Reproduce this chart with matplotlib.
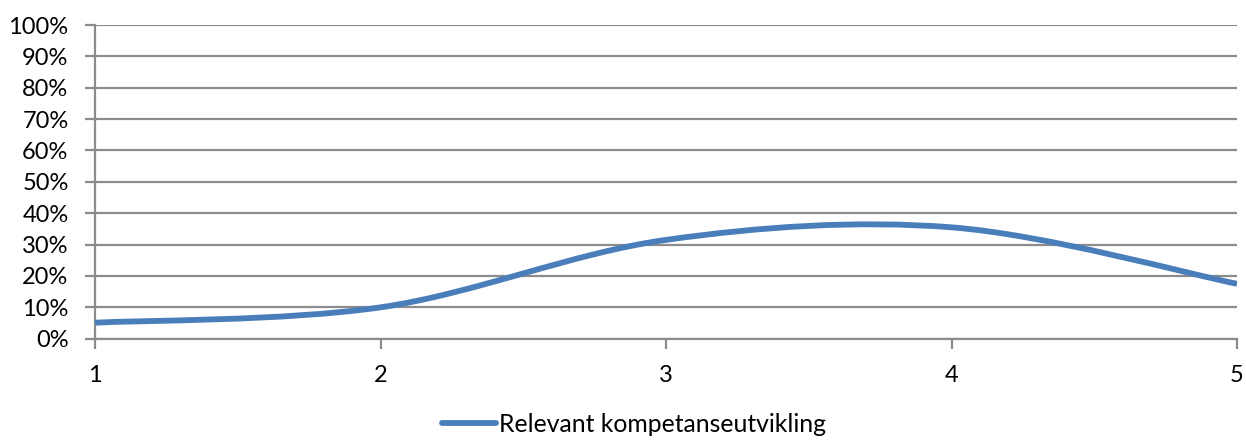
import matplotlib.pyplot as plt
import numpy as np
from matplotlib.path import Path
from matplotlib.patches import PathPatch
from matplotlib.lines import Line2D
from matplotlib.ticker import MultipleLocator, PercentFormatter


SCORES = [1, 2, 3, 4, 5]
SHARES = [5.1, 10.0, 31.5, 35.5, 17.5]
SERIES_NAME = "Relevant kompetanseutvikling"

LINE_COLOR = "#4A7EBB"
GRID_COLOR = "#8C8C8C"


def smooth_path(xs, ys):
    # Bezier segments with 1/6 tangents, the same smoothing spreadsheets use
    pts = np.column_stack([xs, ys]).astype(float)
    padded = np.vstack([pts[0], pts, pts[-1]])
    verts = [pts[0]]
    codes = [Path.MOVETO]
    for i in range(len(pts) - 1):
        p0, p1, p2, p3 = padded[i], padded[i + 1], padded[i + 2], padded[i + 3]
        c1 = p1 + (p2 - p0) / 6
        c2 = p2 - (p3 - p1) / 6
        verts += [c1, c2, p2]
        codes += [Path.CURVE4] * 3
    return Path(verts, codes)


def main():
    plt.rcParams["font.family"] = ["Lato", "DejaVu Sans"]
    fig = plt.figure(figsize=(12.46, 4.41), dpi=100)
    ax = fig.add_axes([95 / 1246, 1 - 338.7 / 441, 1142 / 1246, 313.7 / 441])

    ax.set_xlim(1, 5)
    ax.set_ylim(0, 100)
    ax.xaxis.set_major_locator(MultipleLocator(1))
    ax.yaxis.set_major_locator(MultipleLocator(10))
    ax.yaxis.set_major_formatter(PercentFormatter(decimals=0))

    ax.grid(True, axis="y", color=GRID_COLOR, linewidth=1.6)
    ax.set_axisbelow(True)
    for side in ("top", "right"):
        ax.spines[side].set_visible(False)
    for side in ("left", "bottom"):
        ax.spines[side].set_color(GRID_COLOR)
        ax.spines[side].set_linewidth(1.6)
    ax.tick_params(axis="both", colors=GRID_COLOR, width=1.6, length=7,
                   labelcolor="black", labelsize=17)
    ax.tick_params(axis="y", pad=12)
    ax.tick_params(axis="x", pad=12)

    curve = PathPatch(smooth_path(SCORES, SHARES), facecolor="none",
                      edgecolor=LINE_COLOR, linewidth=4.2, capstyle="butt",
                      zorder=3)
    ax.add_patch(curve)

    handle = Line2D([], [], color=LINE_COLOR, linewidth=4.2,
                    solid_capstyle="round")
    fig.legend([handle], [SERIES_NAME], loc="lower center",
               bbox_to_anchor=(0.509, -0.022), frameon=False, borderpad=0.1,
               fontsize=17.8, handlelength=2.2, handletextpad=0.12)

    fig.savefig("out.png", dpi=100)


if __name__ == "__main__":
    main()
